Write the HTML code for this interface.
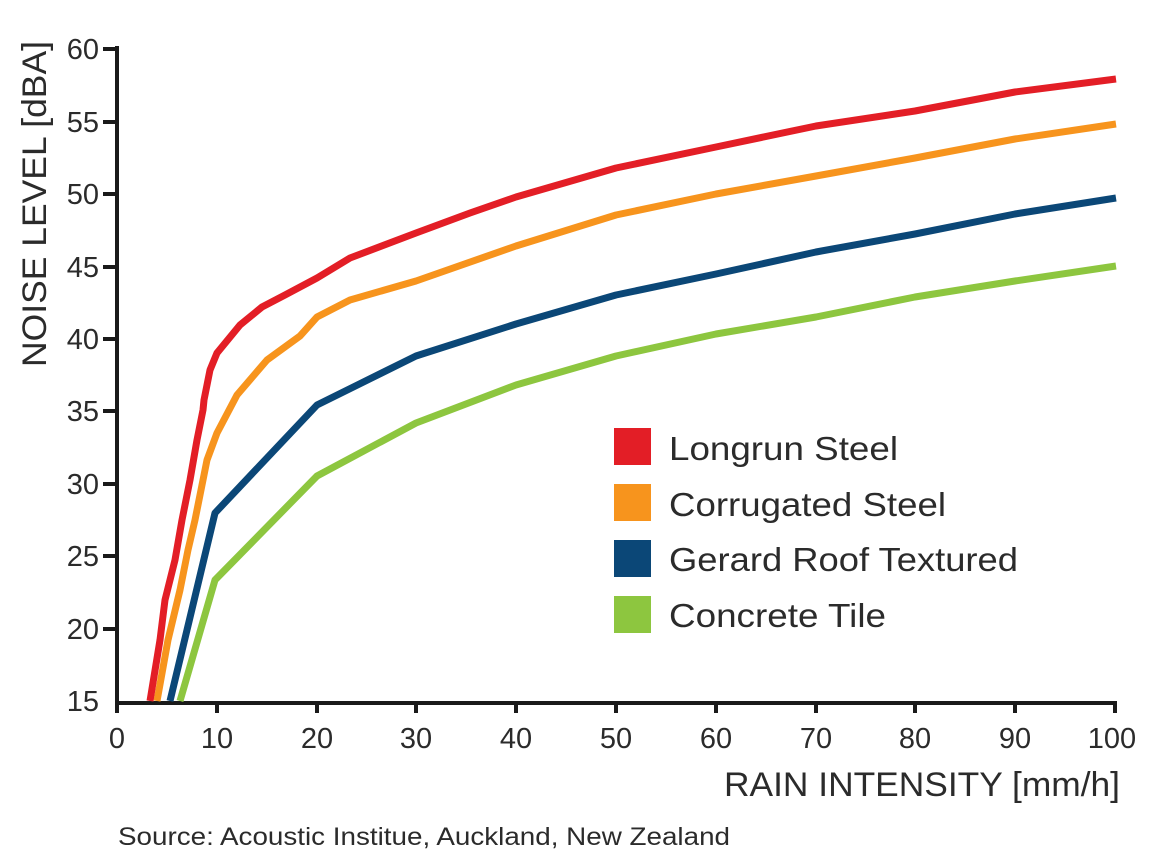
<!DOCTYPE html>
<html><head><style>body{margin:0;background:#fff}</style></head><body>
<svg width="1170" height="863" xmlns="http://www.w3.org/2000/svg" font-family="Liberation Sans, sans-serif" fill="#2b2b2b">
<g stroke="#1a1a1a" stroke-width="4" fill="none">
<path d="M117,46 V703 H1117"/>
<path d="M103,49H117M103,122H117M103,194H117M103,267H117M103,339H117M103,411H117M103,484H117M103,556H117M103,629H117"/>
<path d="M117,703V713M217,703V713M317,703V713M416,703V713M516,703V713M616,703V713M716,703V713M816,703V713M915,703V713M1015,703V713M1115,703V713"/>
</g>
<g font-size="29" text-anchor="end">
<text x="99" y="59">60</text><text x="99" y="132">55</text><text x="99" y="204">50</text><text x="99" y="277">45</text><text x="99" y="349">40</text><text x="99" y="421">35</text><text x="99" y="494">30</text><text x="99" y="566">25</text><text x="99" y="639">20</text><text x="99" y="711">15</text>
</g>
<g font-size="29" text-anchor="middle">
<text x="117" y="748">0</text><text x="217" y="748">10</text><text x="317" y="748">20</text><text x="416" y="748">30</text><text x="516" y="748">40</text><text x="616" y="748">50</text><text x="716" y="748">60</text><text x="816" y="748">70</text><text x="915" y="748">80</text><text x="1015" y="748">90</text><text x="1112" y="748">100</text>
</g>
<text x="724" y="796" font-size="34" textLength="396" lengthAdjust="spacingAndGlyphs">RAIN INTENSITY [mm/h]</text>
<text transform="translate(46,367) rotate(-90)" font-size="34" textLength="326" lengthAdjust="spacingAndGlyphs">NOISE LEVEL [dBA]</text>
<text x="118" y="845" font-size="25" textLength="612" lengthAdjust="spacingAndGlyphs">Source: Acoustic Institue, Auckland, New Zealand</text>
<g fill="none" stroke-width="7" stroke-linejoin="round">
<polyline stroke="#8dc63f" points="180,701 215,580 317,476 416,423 516,385 616,356 716,334 816,317 915,297 1015,281 1116,266"/>
<polyline stroke="#0b4777" points="170,701 215,513 317,405 416,356 516,324 616,295 716,274 816,252 915,234 1015,214 1116,198"/>
<polyline stroke="#f7941d" points="157,701 168,640 180,590 188,550 195,520 207,460 217,433 237,395 267,360 300,336 317,317 350,300 416,281 516,246 616,215 716,194 816,176 915,158 1015,139 1116,124"/>
<polyline stroke="#e31e26" points="150,701 160,640 165,600 175,560 182,520 190,480 197,440 203,410 204,400 210,370 217,353 240,325 262,307 285,295 317,278 350,258 416,233 470,213 516,197 616,168 716,147 816,126 915,111 1015,92 1116,79"/>
</g>
<rect x="614" y="428" width="37" height="37" fill="#e31e26"/>
<rect x="614" y="484" width="37" height="37" fill="#f7941d"/>
<rect x="614" y="540" width="37" height="37" fill="#0b4777"/>
<rect x="614" y="596" width="37" height="37" fill="#8dc63f"/>
<g font-size="33" lengthAdjust="spacingAndGlyphs">
<text x="669" y="460" textLength="229" lengthAdjust="spacingAndGlyphs">Longrun Steel</text>
<text x="669" y="516" textLength="277" lengthAdjust="spacingAndGlyphs">Corrugated Steel</text>
<text x="669" y="571" textLength="349" lengthAdjust="spacingAndGlyphs">Gerard Roof Textured</text>
<text x="669" y="627" textLength="217" lengthAdjust="spacingAndGlyphs">Concrete Tile</text>
</g>
</svg>
</body></html>
